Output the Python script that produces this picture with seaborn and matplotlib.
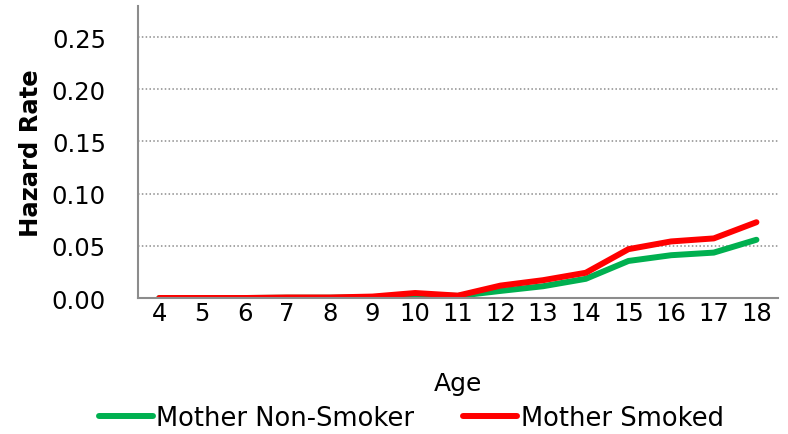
import numpy as np
import pandas as pd
import matplotlib
matplotlib.use("Agg")
import matplotlib.pyplot as plt
import seaborn as sns

# data
ages = [4, 5, 6, 7, 8, 9, 10, 11, 12, 13, 14, 15, 16, 17, 18]
non_smoker = [0.0, 0.0, 0.0, 0.0003, 0.0003, 0.0008, 0.003, 0.002, 0.0068, 0.0113, 0.0184, 0.0355, 0.041, 0.0435, 0.0558]
smoked = [0.0, 0.0, 0.0, 0.0005, 0.0005, 0.0014, 0.0048, 0.0023, 0.0119, 0.0171, 0.0242, 0.0468, 0.0542, 0.0571, 0.0726]
series_names = ["Mother Non-Smoker", "Mother Smoked"]
yticks = [0.00, 0.05, 0.10, 0.15, 0.20, 0.25]

df = pd.DataFrame({
    "Age": ages * 2,
    "Hazard Rate": non_smoker + smoked,
    "Group": [series_names[0]] * len(ages) + [series_names[1]] * len(ages),
})

sns.set_style("white")
plt.rcParams["font.family"] = ["DejaVu Sans"]
plt.rcParams["text.color"] = "black"
plt.rcParams["axes.labelcolor"] = "black"
plt.rcParams["xtick.color"] = "black"
plt.rcParams["ytick.color"] = "black"

fig = plt.figure(figsize=(7.88, 4.35), dpi=100)
ax = fig.add_axes([0.175, 0.3126, 0.812, 0.672])

sns.lineplot(data=df, x="Age", y="Hazard Rate", hue="Group",
             palette={series_names[0]: "#00B050", series_names[1]: "#FF0000"},
             linewidth=4.3, ax=ax, legend=False)
for ln in ax.lines:
    ln.set_solid_capstyle("round")

ax.set_xlim(3.5, 18.5)
ax.set_ylim(0, 0.28)
ax.set_xticks(ages)
ax.set_xticklabels([str(a) for a in ages])
ax.set_yticks(yticks)
ax.set_yticklabels([f"{v:.2f}" for v in yticks])
ax.tick_params(axis="both", length=0, labelsize=17.5)
ax.tick_params(axis="y", pad=23)
ax.tick_params(axis="x", pad=2)

for y in yticks[1:]:
    ax.axhline(y, color="#8c8c8c", linestyle=(0, (1, 1.5)), linewidth=1.1, zorder=0)

for side in ["top", "right"]:
    ax.spines[side].set_visible(False)
for side in ["left", "bottom"]:
    ax.spines[side].set_color("#8c8c8c")
    ax.spines[side].set_linewidth(1.5)

ax.set_xlabel("Age", fontsize=18, labelpad=33)
ax.set_ylabel("Hazard Rate", fontsize=17.5, fontweight="bold", labelpad=2)
ax.yaxis.set_label_coords(-0.148, 0.5)

handles = [plt.Line2D([], [], color=c, linewidth=4.3, solid_capstyle="round")
           for c in ["#00B050", "#FF0000"]]
fig.legend(handles, series_names, loc="lower center", ncol=2, frameon=False,
           fontsize=18.5, handlelength=2.1, handletextpad=0.15, columnspacing=1.9,
           borderpad=0.1, bbox_to_anchor=(0.522, -0.028))

fig.savefig("out.png", dpi=100)
